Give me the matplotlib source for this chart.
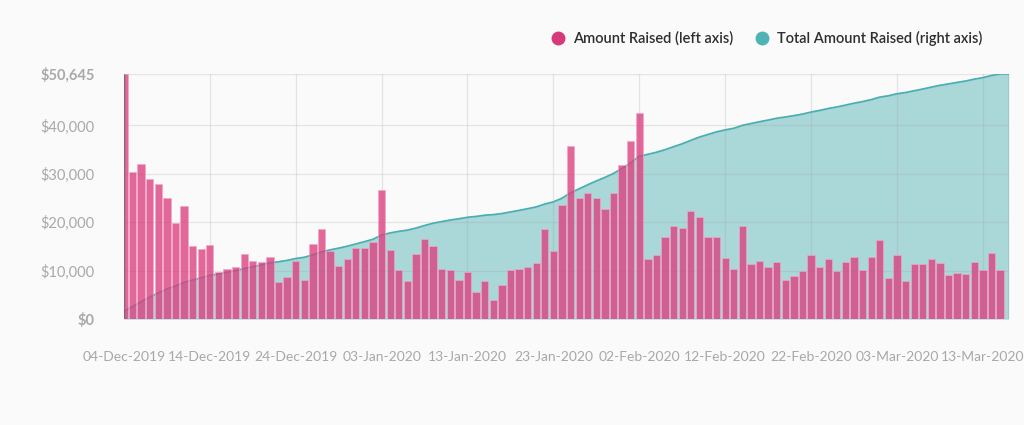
"""
Daily amount raised vs. running total, Dec 2019 - Mar 2020
"""

import numpy as np
import pandas as pd
import matplotlib
matplotlib.use('Agg')
import matplotlib.pyplot as plt
import matplotlib.dates as mdates
from matplotlib.lines import Line2D
from matplotlib.ticker import FixedLocator

plt.rcParams['font.family'] = ['Lato', 'DejaVu Sans']

# daily amounts (USD)
start_date = '2019-12-04'
amounts = [
    50645, 30400, 31970, 29000, 27970, 25010, 19840, 23360, 15090, 14470,
    15300, 9780, 10270, 10820, 13500, 12060, 11850, 12820, 7650, 8750,
    12060, 8060, 15500, 18600, 13990, 10960, 12400, 14750, 14610, 15920,
    26660, 14260, 10060, 7860, 13370, 16540, 15160, 10340, 10130, 8060,
    9650, 5510, 7790, 3930, 7030, 10130, 10340, 10820, 11640, 18530,
    14130, 23560, 35760, 25080, 26110, 25010, 22740, 26040, 31760, 36860,
    42580, 12400, 13160, 16950, 19290, 18810, 22320, 21150, 16880, 16880,
    12680, 10340, 19220, 11440, 11990, 10680, 11780, 8060, 8890, 9850,
    13160, 10680, 12470, 9990, 11710, 12750, 10200, 12750, 16260, 8540,
    13300, 7860, 11370, 11370, 12330, 11640, 9100, 9580, 9300, 11780,
    10200, 13570, 10130, 100,
]
dates = pd.date_range(start_date, periods=len(amounts), freq='D')
totals = np.cumsum(amounts)

yticks = [0, 10000, 20000, 30000, 40000, max(amounts)]

BG = '#fafafa'
PINK = '#dc3f7f'
TEAL = '#4aafb1'
GREY = '#a8a8a8'


def main():
    fig = plt.figure(figsize=(10.24, 4.25), dpi=100, facecolor=BG)
    ax = fig.add_axes([0.121, 0.249, 0.864, 0.577])
    ax2 = ax.twinx()

    # 累計面積（右軸）
    ax2.fill_between(dates, totals, 0, color='#a6d6d7', alpha=0.95, lw=0)
    ax2.plot(dates, totals, color=TEAL, lw=1.3)
    ax2.set_ylim(0, totals.max())
    ax2.set_yticks([])
    ax2.set_facecolor(BG)

    # 每日金額（左軸）
    ax.set_zorder(ax2.get_zorder() + 1)
    ax.patch.set_visible(False)
    ax.bar(dates, amounts, width=0.85, color=PINK, alpha=0.78,
           edgecolor='#f2a6c6', linewidth=0.6, zorder=3)
    ax.set_ylim(0, max(amounts))
    ax.set_xlim(dates[0], dates[-1])

    ax.yaxis.set_major_locator(FixedLocator(yticks))
    ax.set_yticklabels(['${:,.0f}'.format(v) for v in yticks])
    for lbl in ax.get_yticklabels():
        lbl.set_color(GREY)
        lbl.set_fontsize(10.5)
    ax.get_yticklabels()[0].set_fontweight('bold')
    ax.get_yticklabels()[-1].set_fontweight('bold')

    ax.xaxis.set_major_locator(FixedLocator(mdates.date2num(dates[::10])))
    ax.xaxis.set_major_formatter(mdates.DateFormatter('%d-%b-%Y'))
    ax.tick_params(axis='x', length=0, pad=23, labelsize=10, labelcolor=GREY)
    ax.tick_params(axis='y', length=0, pad=21)

    ax.grid(True, color='#9a9a9a', alpha=0.22, lw=0.9, zorder=0)
    for a in (ax, ax2):
        for s in a.spines.values():
            s.set_visible(False)

    # 面積左右兩側的邊線
    for d in (dates[0], dates[-1]):
        ax.axvline(d, color='#666666', lw=1.0, alpha=0.7, zorder=4)

    handles = [
        Line2D([], [], marker='o', ls='', color='#d63a7a', markersize=9),
        Line2D([], [], marker='o', ls='', color='#4fb3b5', markersize=9),
    ]
    fig.legend(handles, ['Amount Raised (left axis)', 'Total Amount Raised (right axis)'],
               loc='center right', bbox_to_anchor=(0.972, 0.91), ncol=2,
               frameon=False, handletextpad=0.0, columnspacing=1.0,
               labelcolor='#2e2e2e',
               prop={'size': 10.5, 'weight': 'semibold'})

    plt.savefig('out.png', dpi=100, facecolor=BG)
    plt.close()


if __name__ == "__main__":
    main()
